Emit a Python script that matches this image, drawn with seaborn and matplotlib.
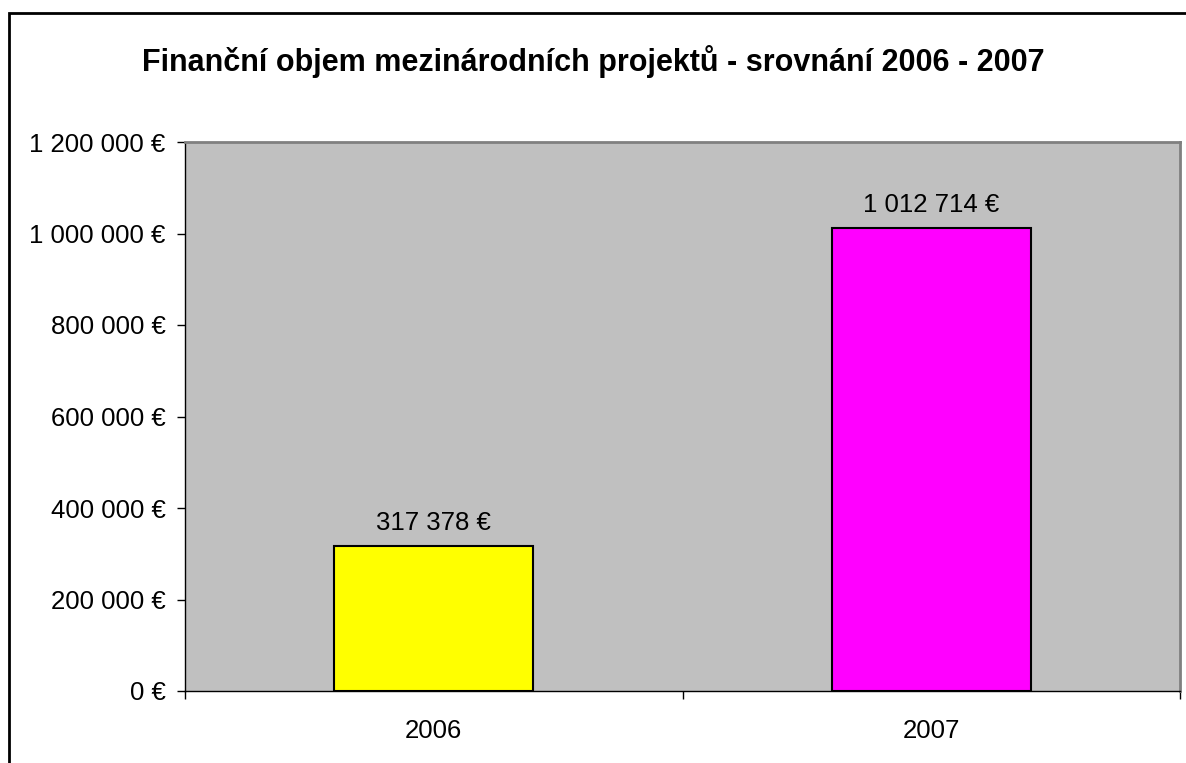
import matplotlib
matplotlib.use("Agg")
import matplotlib.pyplot as plt
from matplotlib.patches import Rectangle
from matplotlib.ticker import FuncFormatter, FixedLocator
import seaborn as sns
import pandas as pd

# data
years = ["2006", "2007"]
amounts = [317378, 1012714]
bar_colors = ["#FFFF00", "#FF00FF"]

df = pd.DataFrame({"rok": years, "objem": amounts})

sns.set_style("white")
plt.rcParams["font.family"] = ["Liberation Sans", "DejaVu Sans"]
plt.rcParams["text.color"] = "black"
plt.rcParams["xtick.color"] = "black"
plt.rcParams["ytick.color"] = "black"

fig = plt.figure(figsize=(11.86, 7.63), dpi=100)
# outer chart frame
fig.patches.append(Rectangle((9 / 1186, -0.01), 1.02, 1 - 13 / 763 + 0.01,
                             transform=fig.transFigure, fill=False,
                             edgecolor="black", linewidth=2, zorder=0))

ax = fig.add_axes([185 / 1186, 72 / 763, 995 / 1186, 549 / 763])
ax.set_facecolor("#C0C0C0")

sns.barplot(data=df, x="rok", y="objem", hue="rok", palette=bar_colors,
            width=0.4, edgecolor="black", linewidth=1.5, legend=False,
            saturation=1, ax=ax)

def euro(v, pos=None):
    return f"{int(round(v)):,}".replace(",", " ") + " €"

ax.set_ylim(0, 1200000)
ax.set_xlim(-0.5, 1.5)
ax.yaxis.set_major_locator(FixedLocator(range(0, 1200001, 200000)))
ax.yaxis.set_major_formatter(FuncFormatter(euro))
ax.set_xlabel("")
ax.set_ylabel("")

# category ticks at boundaries, labels centered
ax.set_xticks([-0.5, 0.5, 1.5])
ax.set_xticklabels([])
ax.set_xticks([0, 1], minor=True)
ax.set_xticklabels(years, minor=True)
ax.tick_params(axis="x", which="major", direction="out", length=6, width=1, color="black")
ax.tick_params(axis="x", which="minor", length=0, pad=20, labelsize=18.5)
ax.tick_params(axis="y", direction="out", length=6, width=1, color="black", labelsize=18.5, pad=8)
ax.tick_params(left=True, bottom=True)

for side in ["left", "bottom"]:
    ax.spines[side].set_color("black")
    ax.spines[side].set_linewidth(1)
for side in ["top", "right"]:
    ax.spines[side].set_color("#808080")
    ax.spines[side].set_linewidth(2)

for i, v in enumerate(amounts):
    ax.annotate(euro(v), (i, v), xytext=(0, 8), textcoords="offset points",
                ha="center", va="bottom", fontsize=18.5)

fig.text(0.5, 1 - 62 / 763, "Finanční objem mezinárodních projektů - srovnání 2006 - 2007",
         ha="center", va="center", fontsize=22, fontweight="bold")

fig.savefig("out.png", dpi=100)
